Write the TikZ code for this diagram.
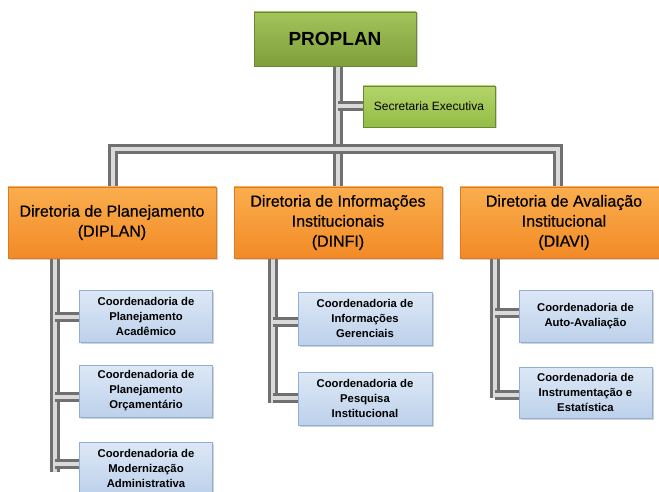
\documentclass[tikz,border=0pt]{standalone}
\usepackage{fontspec}
\setmainfont{Liberation Sans}
\newfontfamily\medfont[FakeBold=0.6]{Liberation Sans}
\usetikzlibrary{shadows}
\definecolor{grnT}{HTML}{A2C45A}
\definecolor{grnB}{HTML}{7F9F3B}
\definecolor{grnD}{HTML}{6A8830}
\definecolor{secT}{HTML}{B3D46A}
\definecolor{secB}{HTML}{93BD45}
\definecolor{orT}{HTML}{FAAE4E}
\definecolor{orB}{HTML}{F28A26}
\definecolor{orD}{HTML}{E07A22}
\definecolor{blT}{HTML}{DDE8F6}
\definecolor{blB}{HTML}{BDD1EB}
\definecolor{blD}{HTML}{90AED6}
\definecolor{pipeC}{HTML}{707070}
\definecolor{pipeI}{HTML}{DADADA}
\tikzset{
  boxbase/.style={rectangle, inner sep=0pt, align=center, text=black,
    drop shadow={shadow xshift=1.5pt, shadow yshift=-1.5pt, opacity=0.35}},
  topbox/.style={boxbase, draw=grnD, line width=0.8pt, top color=grnT, bottom color=grnB,
    minimum width=162pt, minimum height=54pt, font=\fontsize{19}{22}\selectfont\bfseries},
  secbox/.style={boxbase, draw=grnD, line width=0.6pt, top color=secT, bottom color=secB,
    minimum width=132pt, minimum height=41pt, font=\fontsize{12}{14}\selectfont},
  dirbox/.style={boxbase, draw=orD, line width=0.6pt, top color=orT, bottom color=orB,
    minimum width=208pt, minimum height=71pt, font=\medfont\fontsize{16}{20}\selectfont},
  coordbox/.style={boxbase, draw=blD, line width=0.6pt, top color=blT, bottom color=blB,
    minimum width=133pt, minimum height=52pt, font=\fontsize{11.3}{15}\selectfont\bfseries},
  pipe/.style={draw=pipeC, double=pipeI, line width=3pt, double distance=3.6pt}
}
\begin{document}
\begin{tikzpicture}[x=1pt,y=-1pt]
\clip (0,0) rectangle (659,492);
\fill[white] (0,0) rectangle (659,492);
% coordinates of connectors
\coordinate (mtop) at (338,66);
\coordinate (msec) at (338,106);
\coordinate (hl) at (113,149);
\coordinate (hr) at (558,149);
\coordinate (hm) at (338,149);
\coordinate (lp) at (55,258);
\coordinate (lb1) at (55,317);
\coordinate (lb2) at (55,397);
\coordinate (lb3) at (55,464);
\coordinate (lend) at (55,472);
\coordinate (mp) at (273,258);
\coordinate (mb1) at (273,322);
\coordinate (mb2) at (273,398);
\coordinate (mend) at (273,403);
\coordinate (rp) at (495,258);
\coordinate (rb1) at (495,313);
\coordinate (rb2) at (495,395);
\coordinate (rend) at (495,398);
% pipes (drawn first)
\draw[pipe] (mtop) -- (338,187);
\draw[pipe] (msec) -- (363,106);
\draw[pipe, line join=miter] (113,187) -- (hl) -- (hr) -- (558,187);
\draw[pipe] (lp) -- (lend);
\draw[pipe] (lb1) -- (80,317);
\draw[pipe] (lb2) -- (80,397);
\draw[pipe] (lb3) -- (80,464);
\draw[pipe] (mp) -- (mend);
\draw[pipe] (mb1) -- (298,322);
\draw[pipe] (mb2) -- (298,398);
\draw[pipe] (rp) -- (rend);
\draw[pipe] (rb1) -- (519,313);
\draw[pipe] (rb2) -- (519,395);
% nodes
\node[topbox] (proplan) at (335,39) {PROPLAN};
\node[secbox] (sec) at (429,106.5) {Secretaria Executiva};
\node[dirbox] (diplan) at (112,222.5) {Diretoria de Planejamento\\(DIPLAN)};
\node[dirbox] (dinfi) at (338,222.5) {Diretoria de Informações\\Institucionais\\(DINFI)};
\node[dirbox] (diavi) at (564,222.5) {Diretoria de Avaliação\\Institucional\\(DIAVI)};
\node[coordbox] (c1) at (146,316) {Coordenadoria de\\Planejamento\\Acadêmico};
\node[coordbox] (c2) at (146,391) {Coordenadoria de\\Planejamento\\Orçamentário};
\node[coordbox] (c3) at (146,468) {Coordenadoria de\\Modernização\\Administrativa};
\node[coordbox, minimum width=134pt, minimum height=53pt] (c4) at (365,318.5) {Coordenadoria de\\Informações\\Gerenciais};
\node[coordbox, minimum width=134pt, minimum height=53pt] (c5) at (365,398.5) {Coordenadoria de\\Pesquisa\\Institucional};
\node[coordbox] (c6) at (585.5,316) {Coordenadoria de\\Auto-Avaliação};
\node[coordbox, minimum height=51pt] (c7) at (585.5,392.5) {Coordenadoria de\\Instrumentação e\\Estatística};
\end{tikzpicture}
\end{document}
